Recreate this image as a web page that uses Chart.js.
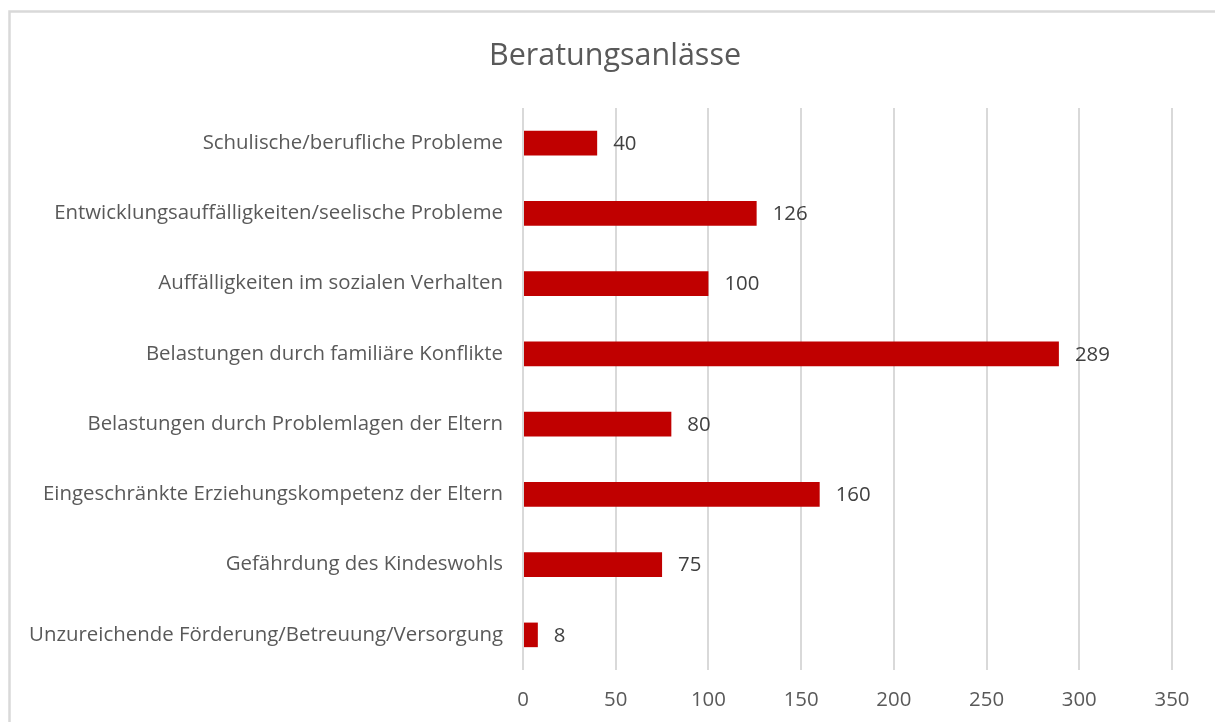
<!DOCTYPE html>
<html>
<head>
<meta charset="utf-8">
<script src="https://cdn.jsdelivr.net/npm/chart.js@4"></script>
<style>
  html, body { margin: 0; padding: 0; background: #ffffff; }
  #wrap { position: relative; width: 1215px; height: 722px; }
</style>
</head>
<body>
<div id="wrap"><canvas id="c" width="1215" height="722"></canvas></div>
<script>
const chartTitle = "Beratungsanlässe";
const categories = [
  "Schulische/berufliche Probleme",
  "Entwicklungsauffälligkeiten/seelische Probleme",
  "Auffälligkeiten im sozialen Verhalten",
  "Belastungen durch familiäre Konflikte",
  "Belastungen durch Problemlagen der Eltern",
  "Eingeschränkte Erziehungskompetenz der Eltern",
  "Gefährdung des Kindeswohls",
  "Unzureichende Förderung/Betreuung/Versorgung"
];
const values = [40, 126, 100, 289, 80, 160, 75, 8];
const xTicks = [0, 50, 100, 150, 200, 250, 300, 350];

const FONT = "'Open Sans', Lato, sans-serif";
const LABEL_SIZE = 20.4;

const framePlugin = {
  id: 'frame',
  beforeDraw(chart) {
    const ctx = chart.ctx;
    ctx.save();
    ctx.fillStyle = '#ffffff';
    ctx.fillRect(0, 0, chart.width, chart.height);
    ctx.strokeStyle = '#d9d9d9';
    ctx.lineWidth = 2.5;
    ctx.beginPath();
    ctx.moveTo(9.5, 740);
    ctx.lineTo(9.5, 11.5);
    ctx.lineTo(1240, 11.5);
    ctx.stroke();
    ctx.restore();
  }
};

const titlePlugin = {
  id: 'centeredTitle',
  afterDraw(chart) {
    const ctx = chart.ctx;
    ctx.save();
    ctx.font = "30.5px " + FONT;
    ctx.fillStyle = '#595959';
    ctx.textAlign = 'center';
    ctx.textBaseline = 'middle';
    ctx.fillText(chartTitle, 615, 56);
    ctx.restore();
  }
};

const valueLabels = {
  id: 'valueLabels',
  afterDatasetsDraw(chart) {
    const ctx = chart.ctx;
    const meta = chart.getDatasetMeta(0);
    ctx.save();
    ctx.font = LABEL_SIZE + "px " + FONT;
    ctx.fillStyle = '#404040';
    ctx.textAlign = 'left';
    ctx.textBaseline = 'middle';
    meta.data.forEach((bar, i) => {
      ctx.fillText(String(values[i]), bar.x + 16, bar.y + 1);
    });
    ctx.restore();
  }
};

new Chart(document.getElementById('c'), {
  type: 'bar',
  data: {
    labels: categories,
    datasets: [{
      data: values,
      backgroundColor: '#c00000',
      borderWidth: 0,
      barPercentage: 0.7,
      categoryPercentage: 0.5
    }]
  },
  options: {
    indexAxis: 'y',
    responsive: false,
    animation: false,
    devicePixelRatio: 1,
    layout: { padding: { left: 12, right: 43, top: 108, bottom: 12 } },
    plugins: {
      legend: { display: false },
      tooltip: { enabled: false },
      title: { display: false }
    },
    scales: {
      x: {
        min: 0, max: 350,
        afterBuildTicks(scale) { scale.ticks = xTicks.map(v => ({ value: v })); },
        grid: { color: '#d9d9d9', lineWidth: 2, drawTicks: false },
        border: { display: false },
        ticks: { color: '#595959', font: { family: FONT, size: LABEL_SIZE }, padding: 18, maxRotation: 0 },
        afterFit(scale) { scale.height = 40; scale.paddingLeft = 0; scale.paddingRight = 0; }
      },
      y: {
        grid: { display: false, drawTicks: false },
        border: { display: false },
        ticks: { color: '#595959', font: { family: FONT, size: LABEL_SIZE }, padding: 20 },
        afterFit(scale) { scale.width = 511; scale.paddingTop = 0; scale.paddingBottom = 0; }
      }
    }
  },
  plugins: [framePlugin, valueLabels, titlePlugin]
});
</script>
</body>
</html>
